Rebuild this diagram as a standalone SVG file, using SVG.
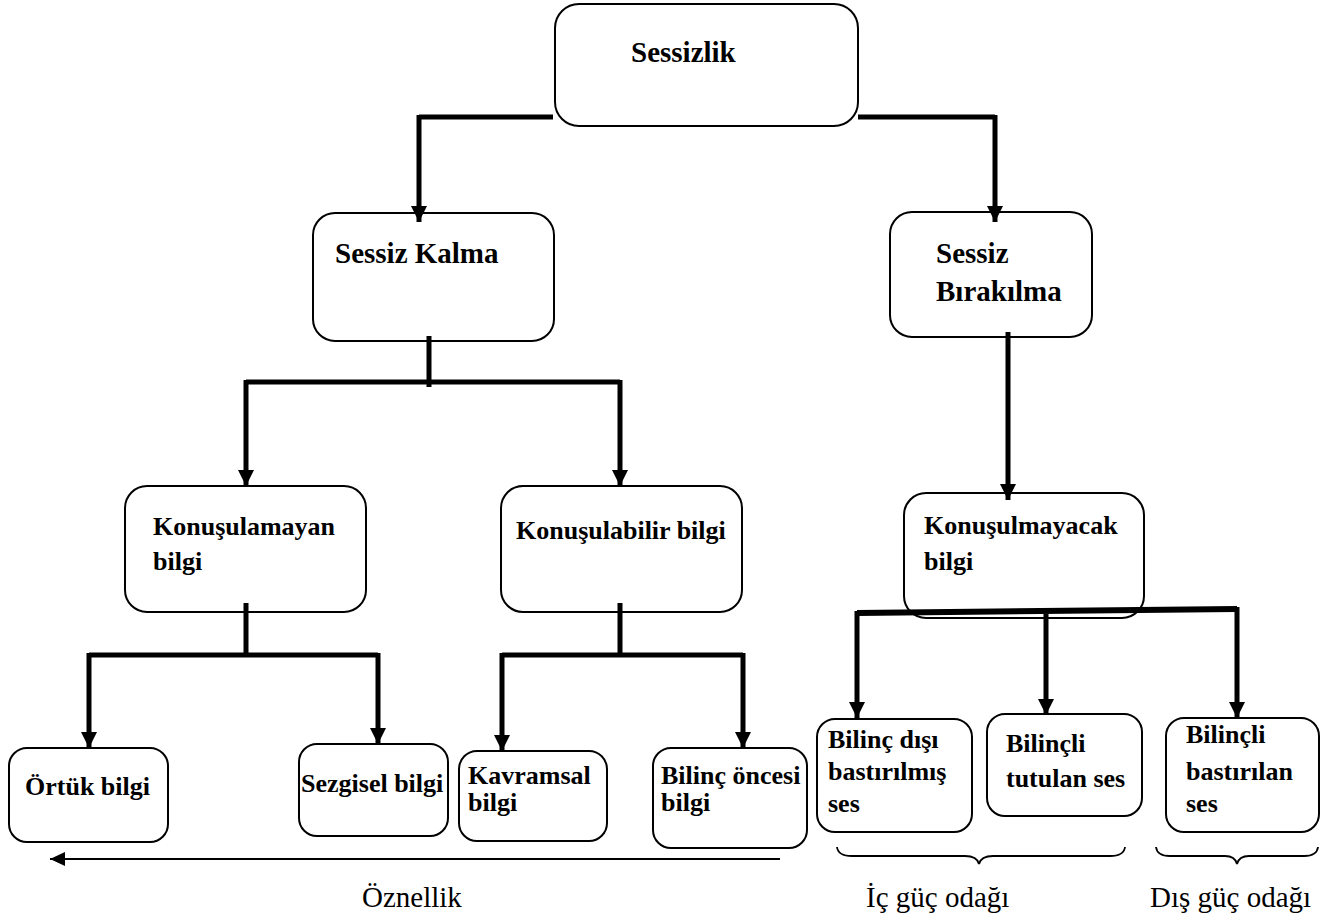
<svg xmlns="http://www.w3.org/2000/svg" width="1343" height="922" viewBox="0 0 1343 922">
<style>
.box{fill:#fff;stroke:#000;stroke-width:2}
.t1{font-family:"Liberation Serif","Times New Roman",serif;font-weight:bold;font-size:29px;fill:#000}
.t2{font-family:"Liberation Serif","Times New Roman",serif;font-weight:bold;font-size:26px;fill:#000}
.lab{font-family:"Liberation Serif","Times New Roman",serif;font-size:29px;fill:#000}
.c{fill:none;stroke:#000;stroke-width:5;stroke-linecap:butt;stroke-linejoin:miter}
.ca{fill:none;stroke:#000;stroke-width:5;marker-end:url(#ah)}
.br{fill:none;stroke:#000;stroke-width:1.8}
</style>
<defs>
<marker id="ah" markerUnits="userSpaceOnUse" markerWidth="17" markerHeight="17" refX="16" refY="8" orient="auto">
<path d="M0,0 L16,8 L0,16 z" fill="#000"/>
</marker>
<marker id="ah2" markerUnits="userSpaceOnUse" markerWidth="16" markerHeight="15" refX="15" refY="7" orient="auto">
<path d="M0,0 L15,7 L0,14 z" fill="#000"/>
</marker>
</defs>
<rect width="1343" height="922" fill="#fff"/>

<g id="n-sessizlik"><rect class="box" x="555" y="4" width="303" height="122" rx="24"/><text class="t1" x="631" y="62">Sessizlik</text></g>
<g id="n-sessiz-kalma"><rect class="box" x="313" y="213" width="241" height="128" rx="22"/><text class="t1" x="335" y="263">Sessiz Kalma</text></g>
<g id="n-sessiz-birakilma"><rect class="box" x="890" y="212" width="202" height="125" rx="22"/><text class="t1" x="936" y="263">Sessiz</text><text class="t1" x="936" y="301">Bırakılma</text></g>
<g id="n-konusulamayan"><rect class="box" x="125" y="486" width="241" height="126" rx="22"/><text class="t2" x="153" y="535">Konuşulamayan</text><text class="t2" x="153" y="570">bilgi</text></g>
<g id="n-konusulabilir"><rect class="box" x="501" y="486" width="241" height="126" rx="22"/><text class="t2" x="516" y="539">Konuşulabilir bilgi</text></g>
<g id="n-konusulmayacak"><rect class="box" x="904" y="493" width="240" height="125" rx="22"/><text class="t2" x="924" y="534">Konuşulmayacak</text><text class="t2" x="924" y="570">bilgi</text></g>
<g id="n-ortuk"><rect class="box" x="9" y="748" width="159" height="94" rx="18"/><text class="t2" x="25" y="795">Örtük bilgi</text></g>
<g id="n-sezgisel"><rect class="box" x="299" y="744" width="149" height="92" rx="18"/><text class="t2" x="301" y="792">Sezgisel bilgi</text></g>
<g id="n-kavramsal"><rect class="box" x="459" y="751" width="148" height="90" rx="18"/><text class="t2" x="468" y="784">Kavramsal</text><text class="t2" x="468" y="811">bilgi</text></g>
<g id="n-bilinc-oncesi"><rect class="box" x="653" y="748" width="154" height="100" rx="18"/><text class="t2" x="661" y="784">Bilinç öncesi</text><text class="t2" x="661" y="811">bilgi</text></g>
<g id="n-bilinc-disi"><rect class="box" x="817" y="719" width="155" height="113" rx="18"/><text class="t2" x="828" y="748">Bilinç dışı</text><text class="t2" x="828" y="780">bastırılmış</text><text class="t2" x="828" y="812">ses</text></g>
<g id="n-bilincli-tutulan"><rect class="box" x="987" y="714" width="155" height="102" rx="18"/><text class="t2" x="1006" y="752">Bilinçli</text><text class="t2" x="1006" y="787">tutulan ses</text></g>
<g id="n-bilincli-bastirilan"><rect class="box" x="1166" y="718" width="153" height="114" rx="18"/><text class="t2" x="1186" y="743">Bilinçli</text><text class="t2" x="1186" y="780">bastırılan</text><text class="t2" x="1186" y="812">ses</text></g>

<g id="connectors">
<path class="c" d="M553,117 L419,117"/>
<path class="ca" d="M419,115 L419,222"/>
<path class="c" d="M858,117 L995,117"/>
<path class="ca" d="M995,115 L995,222"/>
<path class="c" d="M429,336 L429,387"/>
<path class="c" d="M246,382 L620,382"/>
<path class="ca" d="M246,380 L246,486"/>
<path class="ca" d="M620,380 L620,486"/>
<path class="ca" d="M1008,332 L1008,500"/>
<path class="c" d="M246,603 L246,655"/>
<path class="c" d="M89,655 L378,655"/>
<path class="ca" d="M89,653 L89,748"/>
<path class="ca" d="M378,653 L378,744"/>
<path class="c" d="M620,603 L620,655"/>
<path class="c" d="M502,655 L743,655"/>
<path class="ca" d="M502,653 L502,751"/>
<path class="ca" d="M743,653 L743,748"/>
<path class="c" d="M857,613 L1237,609" style="stroke-width:6"/>
<path class="ca" d="M857,611 L857,718"/>
<path class="ca" d="M1046,614 L1046,715"/>
<path class="ca" d="M1237,607 L1237,718"/>
<path d="M780,859 L50,859" fill="none" stroke="#000" stroke-width="2.2" marker-end="url(#ah2)"/>
</g>

<g id="braces">
<path class="br" d="M837,847 Q838,856 852,856 L965,856 Q977,856 979,864 Q981,856 993,856 L1110,856 Q1124,856 1125,847"/>
<path class="br" d="M1156,847 Q1157,856 1170,856 L1225,856 Q1235,856 1237,864 Q1239,856 1249,856 L1304,856 Q1317,856 1318,847"/>
</g>
<g id="labels">
<text class="lab" x="362" y="907">Öznellik</text>
<text class="lab" x="866" y="907">İç güç odağı</text>
<text class="lab" x="1150" y="907">Dış güç odağı</text>
</g>
</svg>
